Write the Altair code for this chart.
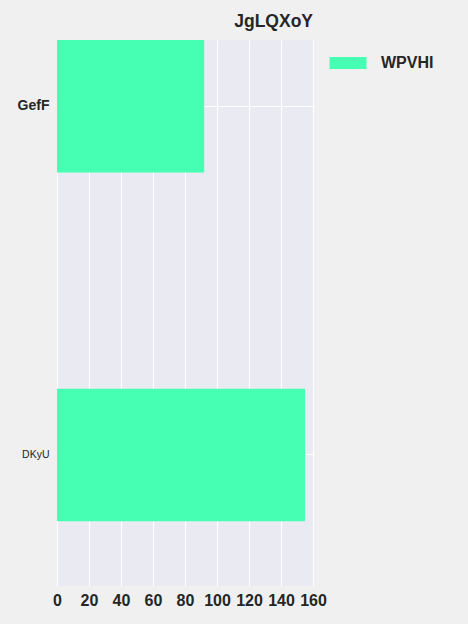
import altair as alt
import pandas as pd

categories = ["GefF", "DKyU"]
values = [92, 155]
series = ["WPVHI", "WPVHI"]
x_ticks = [0, 20, 40, 60, 80, 100, 120, 140, 160]

df = pd.DataFrame({"cat": categories, "val": values, "series": series})

FONT = "Liberation Sans"

chart = alt.Chart(df).mark_bar(color="#47ffb2").encode(
    x=alt.X("val:Q", scale=alt.Scale(domain=[0, 160], nice=False),
            axis=alt.Axis(values=x_ticks, title=None, grid=True, gridColor="white",
                          gridWidth=1, ticks=False, domain=False, labelFont=FONT,
                          labelFontSize=16, labelFontWeight="bold", labelColor="#262626",
                          labelPadding=6, labelFlush=False)),
    y=alt.Y("cat:N", sort=categories,
            scale=alt.Scale(paddingInner=0.62, paddingOuter=0.093, align=0),
            axis=alt.Axis(title=None, grid=True, gridColor="white", gridWidth=1,
                          ticks=False, domain=False, labelFont=FONT,
                          labelFontSize=alt.ExprRef("datum.value == 'GefF' ? 14 : 10.5"),
                          labelFontWeight=alt.ExprRef("datum.value == 'GefF' ? 'bold' : 'normal'"),
                          labelColor="#262626", labelPadding=8)),
    color=alt.Color("series:N", scale=alt.Scale(range=["#47ffb2"]),
                    legend=alt.Legend(title=None, orient="none", legendX=279, legendY=11,
                                      symbolType="M-1.54,-0.5H1.54V0.5H-1.54Z",
                                      symbolSize=576, symbolStrokeWidth=0,
                                      labelFont=FONT, labelFontSize=16, labelFontWeight="bold",
                                      labelColor="#262626", labelOffset=21)),
).properties(
    width=256, height=546,
    title=alt.TitleParams("JgLQXoY", anchor="end", frame="group", font=FONT,
                          fontSize=17.5, fontWeight="bold", color="#262626", offset=10),
    background="#f0f0f0",
    padding={"left": 57, "top": 40, "right": 155, "bottom": 38},
    autosize=alt.AutoSizeParams(type="none"),
).configure_view(fill="#eaeaf2", stroke=None)

chart.save("out.html", embed_options={"renderer": "svg", "actions": False})
